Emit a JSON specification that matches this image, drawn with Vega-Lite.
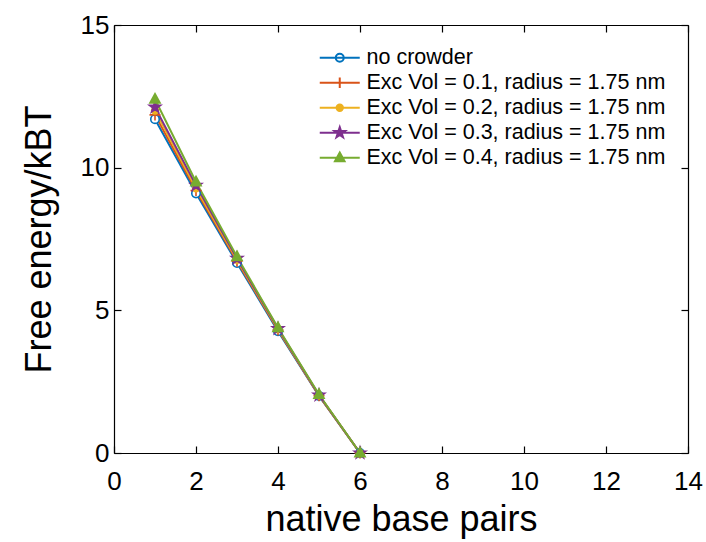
{
  "$schema": "https://vega.github.io/schema/vega-lite/v6.json",
  "autosize": {"type": "none"},
  "width": 574,
  "height": 428,
  "padding": {"left": 114, "top": 25, "right": 18, "bottom": 89},
  "background": "white",
  "config": {
    "font": "Liberation Sans",
    "view": {"stroke": null},
    "axis": {
      "grid": false,
      "domainColor": "black",
      "domainWidth": 1.2,
      "tickColor": "black",
      "tickWidth": 1.2,
      "tickSize": -7,
      "labelColor": "black",
      "titleColor": "black",
      "labelFontSize": 26,
      "titleFontSize": 36,
      "titleFontWeight": "normal",
      "labelFont": "Liberation Sans",
      "titleFont": "Liberation Sans"
    },
    "legend": {
      "orient": "top-right",
      "offset": 22,
      "symbolOffset": 16,
      "labelOffset": 16,
      "rowPadding": 2,
      "labelLimit": 0,
      "symbolStrokeWidth": 2,
      "symbolSize": 64,
      "symbolOpacity": 1,
      "labelFontSize": 21.5,
      "labelColor": "black",
      "labelFont": "Liberation Sans"
    }
  },
  "data": {
    "values": [
      {"series": "no crowder", "x": 1, "y": 11.7},
      {"series": "no crowder", "x": 2, "y": 9.1},
      {"series": "no crowder", "x": 3, "y": 6.66},
      {"series": "no crowder", "x": 4, "y": 4.27},
      {"series": "no crowder", "x": 5, "y": 2.0},
      {"series": "no crowder", "x": 6, "y": 0.0},
      {"series": "Exc Vol = 0.1, radius = 1.75 nm", "x": 1, "y": 11.85},
      {"series": "Exc Vol = 0.1, radius = 1.75 nm", "x": 2, "y": 9.2},
      {"series": "Exc Vol = 0.1, radius = 1.75 nm", "x": 3, "y": 6.72},
      {"series": "Exc Vol = 0.1, radius = 1.75 nm", "x": 4, "y": 4.31},
      {"series": "Exc Vol = 0.1, radius = 1.75 nm", "x": 5, "y": 2.01},
      {"series": "Exc Vol = 0.1, radius = 1.75 nm", "x": 6, "y": 0.0},
      {"series": "Exc Vol = 0.2, radius = 1.75 nm", "x": 1, "y": 12.0},
      {"series": "Exc Vol = 0.2, radius = 1.75 nm", "x": 2, "y": 9.28},
      {"series": "Exc Vol = 0.2, radius = 1.75 nm", "x": 3, "y": 6.77},
      {"series": "Exc Vol = 0.2, radius = 1.75 nm", "x": 4, "y": 4.34},
      {"series": "Exc Vol = 0.2, radius = 1.75 nm", "x": 5, "y": 2.02},
      {"series": "Exc Vol = 0.2, radius = 1.75 nm", "x": 6, "y": 0.0},
      {"series": "Exc Vol = 0.3, radius = 1.75 nm", "x": 1, "y": 12.12},
      {"series": "Exc Vol = 0.3, radius = 1.75 nm", "x": 2, "y": 9.38},
      {"series": "Exc Vol = 0.3, radius = 1.75 nm", "x": 3, "y": 6.82},
      {"series": "Exc Vol = 0.3, radius = 1.75 nm", "x": 4, "y": 4.36},
      {"series": "Exc Vol = 0.3, radius = 1.75 nm", "x": 5, "y": 2.03},
      {"series": "Exc Vol = 0.3, radius = 1.75 nm", "x": 6, "y": 0.0},
      {"series": "Exc Vol = 0.4, radius = 1.75 nm", "x": 1, "y": 12.4},
      {"series": "Exc Vol = 0.4, radius = 1.75 nm", "x": 2, "y": 9.5},
      {"series": "Exc Vol = 0.4, radius = 1.75 nm", "x": 3, "y": 6.88},
      {"series": "Exc Vol = 0.4, radius = 1.75 nm", "x": 4, "y": 4.39},
      {"series": "Exc Vol = 0.4, radius = 1.75 nm", "x": 5, "y": 2.05},
      {"series": "Exc Vol = 0.4, radius = 1.75 nm", "x": 6, "y": 0.0}
    ]
  },
  "layer": [
    {
      "mark": {"type": "line", "strokeWidth": 2},
      "encoding": {
        "x": {"field": "x", "type": "quantitative", "scale": {"domain": [0, 14], "nice": false, "zero": false},
          "axis": {"orient": "bottom", "values": [0, 2, 4, 6, 8, 10, 12, 14], "title": "native base pairs", "labelPadding": 22, "titlePadding": 8, "labelFlush": false}},
        "y": {"field": "y", "type": "quantitative", "scale": {"domain": [0, 15], "nice": false, "zero": false},
          "axis": {"orient": "left", "values": [0, 5, 10, 15], "title": "Free energy/kBT", "labelPadding": 12, "titlePadding": 22, "labelFlush": false}},
        "color": {"field": "series", "type": "nominal", "legend": null,
          "scale": {"domain": ["no crowder", "Exc Vol = 0.1, radius = 1.75 nm", "Exc Vol = 0.2, radius = 1.75 nm", "Exc Vol = 0.3, radius = 1.75 nm", "Exc Vol = 0.4, radius = 1.75 nm"],
            "range": ["#0072BD", "#D95319", "#EDB120", "#7E2F8E", "#77AC30"]}}
      }
    },
    {
      "mark": {"type": "point", "size": 72, "strokeWidth": 1.6, "opacity": 1},
      "encoding": {
        "x": {"field": "x", "type": "quantitative", "axis": {"orient": "top", "values": [0, 2, 4, 6, 8, 10, 12, 14], "labels": false, "title": null}},
        "y": {"field": "y", "type": "quantitative", "axis": {"orient": "right", "values": [0, 5, 10, 15], "labels": false, "title": null}},
        "stroke": {"field": "series", "type": "nominal", "legend": null,
          "scale": {"domain": ["no crowder", "Exc Vol = 0.1, radius = 1.75 nm", "Exc Vol = 0.2, radius = 1.75 nm", "Exc Vol = 0.3, radius = 1.75 nm", "Exc Vol = 0.4, radius = 1.75 nm"],
            "range": ["#0072BD", "#D95319", "#EDB120", "#7E2F8E", "#77AC30"]}},
        "fill": {"field": "series", "type": "nominal", "legend": null,
          "scale": {"domain": ["no crowder", "Exc Vol = 0.1, radius = 1.75 nm", "Exc Vol = 0.2, radius = 1.75 nm", "Exc Vol = 0.3, radius = 1.75 nm", "Exc Vol = 0.4, radius = 1.75 nm"],
            "range": ["white", "#D95319", "#EDB120", "#7E2F8E", "#77AC30"]}},
        "shape": {"field": "series", "type": "nominal", "legend": null,
          "scale": {"domain": ["no crowder", "Exc Vol = 0.1, radius = 1.75 nm", "Exc Vol = 0.2, radius = 1.75 nm", "Exc Vol = 0.3, radius = 1.75 nm", "Exc Vol = 0.4, radius = 1.75 nm"],
            "range": [
              "M1,0A1,1,0,1,1,-1,0A1,1,0,1,1,1,0Z",
              "M-1.3,0H1.3M0,-1.3V1.3",
              "M0.8,0A0.8,0.8,0,1,1,-0.8,0A0.8,0.8,0,1,1,0.8,0Z",
              "M0,-1.4L0.323,-0.445L1.331,-0.433L0.523,0.17L0.823,1.133L0,0.55L-0.823,1.133L-0.523,0.17L-1.331,-0.433L-0.323,-0.445Z",
              "M0,-1.3L1.2,0.9L-1.2,0.9Z"
            ]}}
      }
    },
    {
      "mark": {"type": "point", "size": 64, "strokeWidth": 1.6, "opacity": 0},
      "encoding": {
        "x": {"field": "x", "type": "quantitative", "axis": null},
        "y": {"field": "y", "type": "quantitative", "axis": null},
        "stroke": {"field": "series", "type": "nominal", "title": null,
          "scale": {"domain": ["no crowder", "Exc Vol = 0.1, radius = 1.75 nm", "Exc Vol = 0.2, radius = 1.75 nm", "Exc Vol = 0.3, radius = 1.75 nm", "Exc Vol = 0.4, radius = 1.75 nm"],
            "range": ["#0072BD", "#D95319", "#EDB120", "#7E2F8E", "#77AC30"]}},
        "fill": {"field": "series", "type": "nominal", "title": null,
          "scale": {"domain": ["no crowder", "Exc Vol = 0.1, radius = 1.75 nm", "Exc Vol = 0.2, radius = 1.75 nm", "Exc Vol = 0.3, radius = 1.75 nm", "Exc Vol = 0.4, radius = 1.75 nm"],
            "range": ["white", "#D95319", "#EDB120", "#7E2F8E", "#77AC30"]}},
        "shape": {"field": "series", "type": "nominal", "title": null,
          "scale": {"domain": ["no crowder", "Exc Vol = 0.1, radius = 1.75 nm", "Exc Vol = 0.2, radius = 1.75 nm", "Exc Vol = 0.3, radius = 1.75 nm", "Exc Vol = 0.4, radius = 1.75 nm"],
            "range": [
              "M-5,0H5M1,0A1,1,0,1,1,-1,0A1,1,0,1,1,1,0Z",
              "M-5,0H5M0,-1.3V1.3",
              "M-5,0H5M0.8,0A0.8,0.8,0,1,1,-0.8,0A0.8,0.8,0,1,1,0.8,0Z",
              "M-5,0H5M0,-1.4L0.323,-0.445L1.331,-0.433L0.523,0.17L0.823,1.133L0,0.55L-0.823,1.133L-0.523,0.17L-1.331,-0.433L-0.323,-0.445Z",
              "M-5,0H5M0,-1.3L1.2,0.9L-1.2,0.9Z"
            ]}}
      }
    }
  ],
  "resolve": {"scale": {"shape": "independent", "stroke": "independent", "fill": "independent"}, "legend": {"shape": "independent", "stroke": "independent", "fill": "independent"}, "axis": {"x": "independent", "y": "independent"}}
}
